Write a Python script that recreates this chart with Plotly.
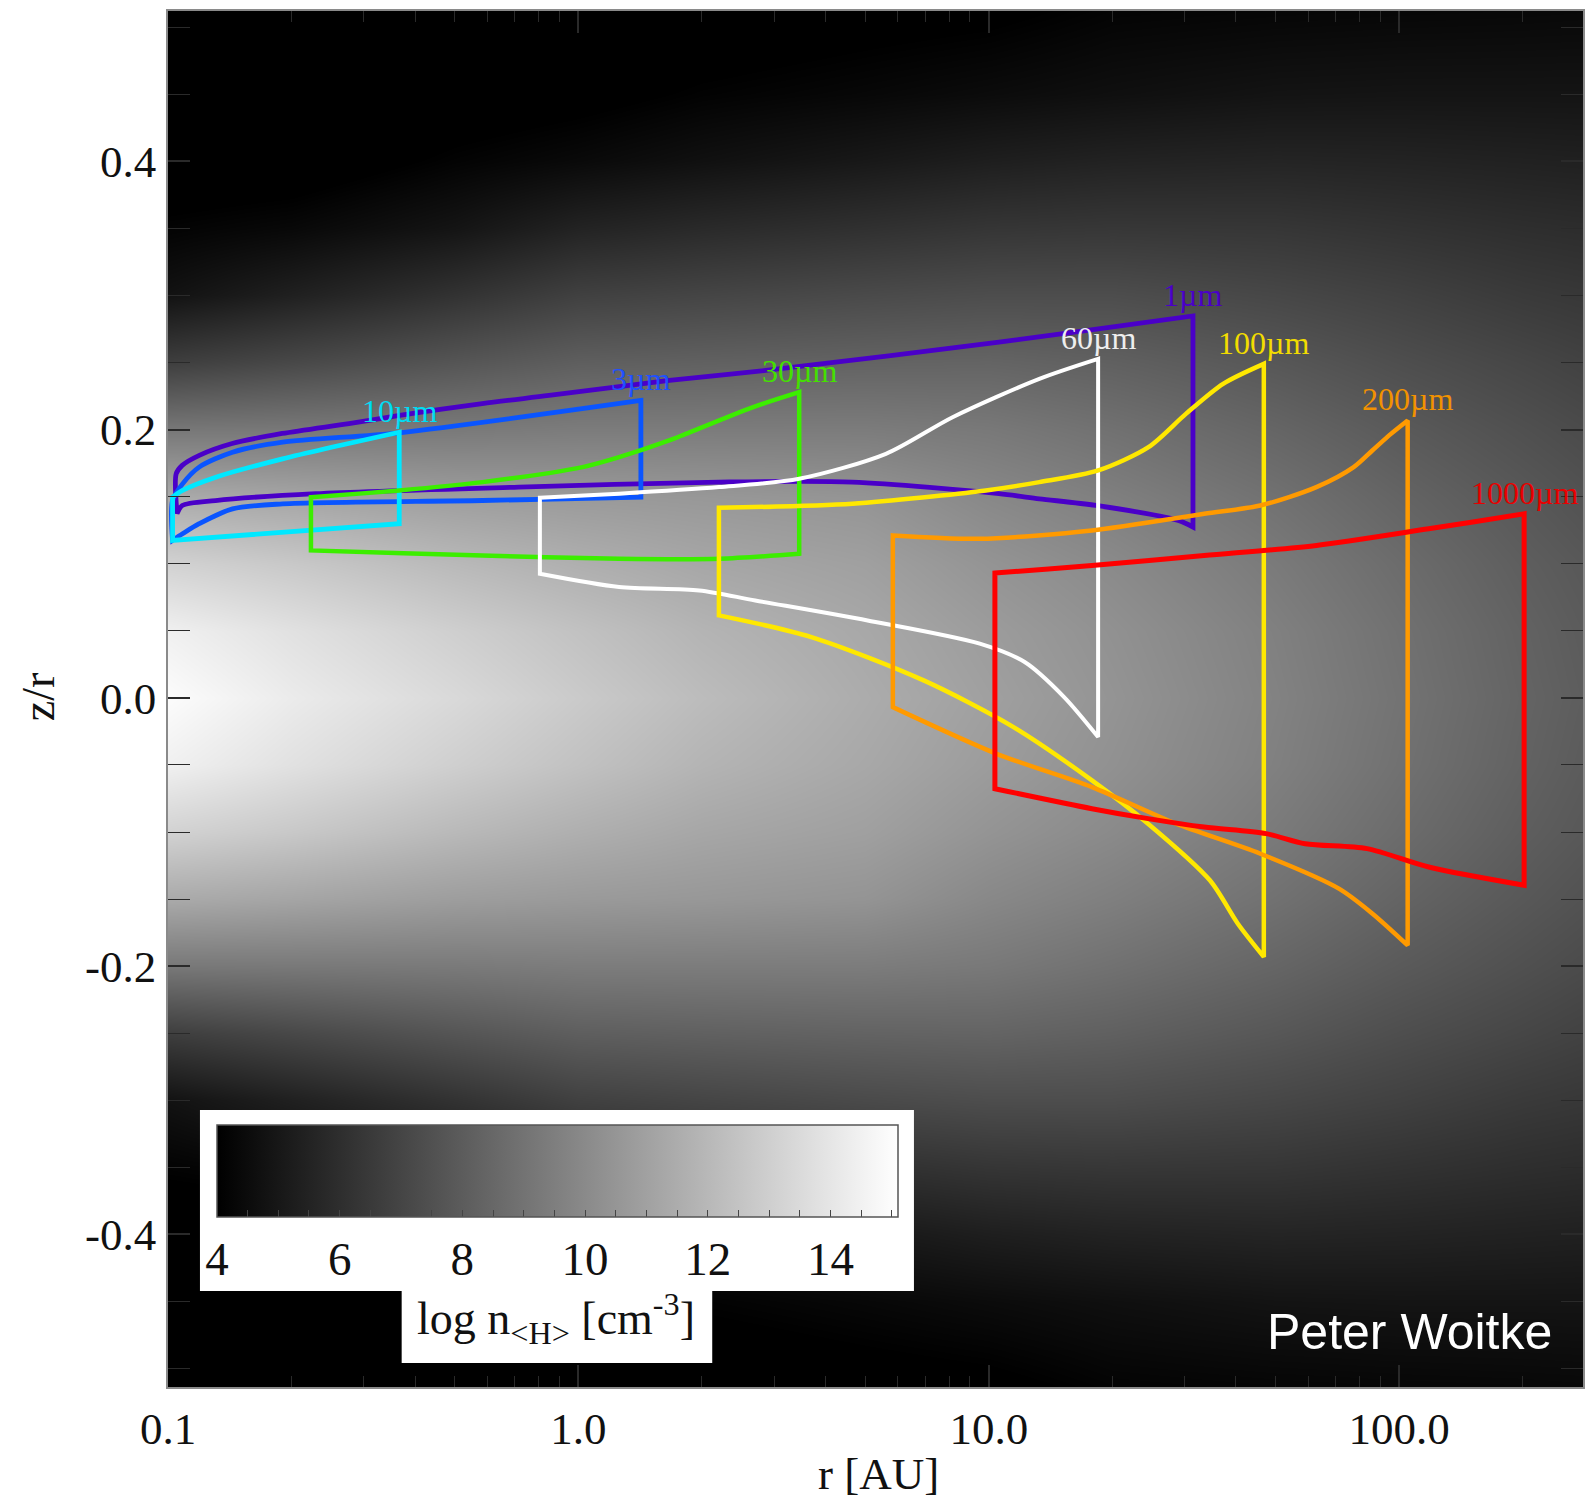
import numpy as np
import plotly.graph_objects as go

# ---------------- background density field (log n_<H>) -------------
R_GRID = [0.1, 0.2, 0.5, 1.0, 2.0, 5.0, 10.0, 20.0, 50.0, 100.0, 200.0, 300.0]
ZR_GRID = [0.0, 0.05, 0.10, 0.15, 0.20, 0.25, 0.30, 0.35, 0.40, 0.45, 0.52]
LOGN_ZR_000 = [14.97, 14.23, 13.45, 12.80, 12.18, 11.49, 10.96, 10.44, 9.66, 9.01, 8.35, 8.00]
LOGN_ZR_005 = [14.45, 13.79, 13.00, 12.42, 11.84, 11.31, 10.79, 10.31, 9.57, 8.92, 8.27, 7.92]
LOGN_ZR_010 = [13.14, 12.71, 12.05, 11.62, 11.25, 10.96, 10.44, 10.01, 9.31, 8.70, 8.09, 7.79]
LOGN_ZR_015 = [11.40, 11.18, 10.85, 10.70, 10.60, 10.44, 9.92, 9.53, 8.92, 8.35, 7.83, 7.53]
LOGN_ZR_020 = [9.22, 9.25, 9.30, 9.40, 9.40, 9.40, 9.25, 8.92, 8.40, 7.92, 7.48, 7.22]
LOGN_ZR_025 = [6.70, 7.13, 7.70, 8.10, 8.20, 8.30, 8.35, 8.18, 7.79, 7.40, 7.05, 6.83]
LOGN_ZR_030 = [4.78, 5.39, 6.18, 6.80, 7.00, 7.22, 7.35, 7.35, 7.09, 6.83, 6.52, 6.39]
LOGN_ZR_035 = [4.13, 4.35, 4.87, 5.50, 5.80, 6.09, 6.31, 6.39, 6.35, 6.18, 6.00, 5.92]
LOGN_ZR_040 = [3.50, 3.60, 4.13, 4.40, 4.70, 5.04, 5.31, 5.48, 5.57, 5.52, 5.44, 5.39]
LOGN_ZR_045 = [3.00, 3.00, 3.60, 3.80, 4.09, 4.30, 4.48, 4.65, 4.83, 4.87, 4.87, 4.87]
LOGN_ZR_052 = [2.50, 2.50, 3.00, 3.20, 3.50, 3.70, 3.80, 4.09, 4.17, 4.22, 4.26, 4.30]
LOGN_ROWS = [LOGN_ZR_000, LOGN_ZR_005, LOGN_ZR_010, LOGN_ZR_015, LOGN_ZR_020, LOGN_ZR_025,
             LOGN_ZR_030, LOGN_ZR_035, LOGN_ZR_040, LOGN_ZR_045, LOGN_ZR_052]

# ---------------- emission regions (r [AU], z/r) --------------------------------------------
R_1UM = [0.1047, 0.1083, 0.1192, 0.1433, 0.1898, 0.276, 0.3664, 0.583, 0.848, 1.666, 2.863,
         10.59, 31.45, 31.45, 28.96, 18.24, 13.28, 10.58, 4.65, 2.20, 0.716, 0.2289, 0.1305,
         0.1083, 0.1052, 0.1047]
Z_1UM = [0.1670, 0.1733, 0.1808, 0.1896, 0.1971, 0.2045, 0.2105, 0.2194, 0.2254, 0.2366, 0.2441,
         0.2652, 0.2847, 0.1273, 0.1323, 0.1434, 0.1484, 0.1522, 0.1608, 0.1608, 0.1571, 0.1522,
         0.1471, 0.1434, 0.1374, 0.1670]

R_3UM = [0.1026, 0.1085, 0.1191, 0.1436, 0.1902, 0.3660, 1.420, 1.420, 0.583, 0.1902, 0.1436,
         0.1191, 0.1085, 0.1026, 0.1026]
Z_3UM = [0.1471, 0.1595, 0.1720, 0.1831, 0.1906, 0.1976, 0.2217, 0.1496, 0.1471, 0.1446, 0.1409,
         0.1298, 0.1223, 0.1174, 0.1471]

R_10UM = [0.1026, 0.1085, 0.1308, 0.1902, 0.3660, 0.3660, 0.1026, 0.1026]
Z_10UM = [0.1496, 0.1546, 0.1645, 0.1782, 0.1980, 0.1298, 0.1174, 0.1496]

R_30UM = [0.2230, 0.3660, 0.5837, 1.0236, 1.257, 1.664, 1.827, 2.657, 3.452, 3.452, 2.203,
          1.257, 0.5837, 0.2230, 0.2230]
Z_30UM = [0.1496, 0.1546, 0.1608, 0.1720, 0.1794, 0.1919, 0.1968, 0.2166, 0.2279, 0.1074, 0.1037,
          0.1037, 0.1061, 0.1099, 0.1496]

R_60UM = [0.8057, 1.257, 2.203, 3.452, 5.615, 8.163, 13.28, 18.47, 18.47, 15.26, 12.23, 9.508,
          5.067, 2.698, 1.969, 1.257, 0.8057, 0.8057]
Z_60UM = [0.1492, 0.1522, 0.1571, 0.1633, 0.1819, 0.2092, 0.2378, 0.2527, -0.0292, 0.0006, 0.0267,
          0.0404, 0.0577, 0.0726, 0.0801, 0.0826, 0.0925, 0.1492]

R_100UM = [2.200, 4.656, 9.837, 13.28, 18.47, 24.50, 30.22, 37.24, 46.8, 46.8, 40.46, 34.58,
           24.44, 17.84, 11.49, 6.940, 3.696, 2.200, 2.200]
Z_100UM = [0.1417, 0.1447, 0.1546, 0.1608, 0.1695, 0.1869, 0.2117, 0.2341, 0.2490, -0.1931,
           -0.1684, -0.1360, -0.0938, -0.0615, -0.0218, 0.0130, 0.0453, 0.0615, 0.1417]

R_200UM = [5.839, 9.508, 17.84, 33.49, 45.90, 62.85, 77.48, 86.01, 95.50, 104.9, 104.9, 86.12,
           71.32, 45.90, 28.62, 17.84, 10.45, 5.839, 5.839]
Z_200UM = [0.1211, 0.1186, 0.1248, 0.1372, 0.1434, 0.1571, 0.1720, 0.1844, 0.1968, 0.2068,
           -0.1845, -0.1609, -0.1422, -0.1162, -0.0938, -0.0665, -0.0417, -0.0069, 0.1211]

R_1000UM = [10.35, 17.84, 33.49, 62.88, 118.0, 201.6, 201.6, 118.0, 83.51, 59.02, 47.38, 33.49,
            24.44, 17.84, 10.35, 10.35]
Z_1000UM = [0.0930, 0.0987, 0.1061, 0.1136, 0.1260, 0.1372, -0.1397, -0.1261, -0.1124, -0.1087,
            -0.1012, -0.0963, -0.0900, -0.0826, -0.0677, 0.0930]

SERIES_NAMES = ["1µm", "3µm", "10µm", "30µm", "60µm", "100µm", "200µm", "1000µm"]
SERIES_R = [R_1UM, R_3UM, R_10UM, R_30UM, R_60UM, R_100UM, R_200UM, R_1000UM]
SERIES_Z = [Z_1UM, Z_3UM, Z_10UM, Z_30UM, Z_60UM, Z_100UM, Z_200UM, Z_1000UM]
LABEL_R = [31.45, 1.420, 0.366, 3.452, 18.47, 46.8, 104.9, 201.6]
LABEL_Z = [0.2847, 0.2217, 0.1980, 0.2279, 0.2527, 0.2490, 0.2068, 0.1372]

X_TICKS = [0.1, 1, 10, 100]
X_TICKTEXT = ["0.1", "1.0", "10.0", "100.0"]
Y_TICKS = [-0.4, -0.2, 0.0, 0.2, 0.4]
Y_TICKTEXT = ["-0.4", "-0.2", "0.0", "0.2", "0.4"]

# ---------------- styling -------------------------------------------------------------------
LINE_COLORS = ["#4a00c8", "#0a55ff", "#00e8ff", "#3cee00", "#ffffff", "#ffe800", "#ff9a00", "#ff0000"]
LINE_WIDTHS = [4.8, 4.8, 4.8, 4.5, 4.0, 4.5, 4.5, 5.0]
TEXT_COLORS = ["#4a00c8", "#2050ff", "#00dcf4", "#44e000", "#eeeeee", "#f2dc00", "#f29200", "#e80000"]
W, H = 1585, 1501
L, T, B = 168, 11, 114
PW, PH = W - L, H - T - B
X_RANGE = [-1.0, 2.448]
Y_RANGE = [-0.5137, 0.512]
SERIF = "Liberation Serif"


def px_x(p):
    return (p - L) / PW


def px_y(p):
    return (T + PH - p) / PH


def turn_angle(p_prev, p, p_next):
    a = p - p_prev
    b = p_next - p
    na, nb = np.linalg.norm(a), np.linalg.norm(b)
    if na == 0 or nb == 0:
        return 0.0
    return float(np.degrees(np.arccos(np.clip(a.dot(b) / (na * nb), -1, 1))))


def sharpen(rr, zz, min_turn_deg=55.0):
    """Duplicate sharp vertices so the spline keeps real corners there."""
    px = (np.log10(rr) - X_RANGE[0]) / (X_RANGE[1] - X_RANGE[0]) * PW
    py = -np.asarray(zz) / (Y_RANGE[1] - Y_RANGE[0]) * PH
    pts = np.column_stack([px, py])
    n = len(rr)
    closed = rr[0] == rr[-1] and zz[0] == zz[-1]
    out_r, out_z = [], []
    for i in range(n):
        out_r.append(rr[i])
        out_z.append(zz[i])
        if 0 < i < n - 1:
            if turn_angle(pts[i - 1], pts[i], pts[i + 1]) > min_turn_deg:
                out_r.append(rr[i])
                out_z.append(zz[i])
    if closed and turn_angle(pts[n - 2], pts[0], pts[1]) > min_turn_deg:
        out_r.insert(0, rr[0])
        out_z.insert(0, zz[0])
    return out_r, out_z


zr_full = [-v for v in ZR_GRID[::-1][:-1]] + ZR_GRID
z_full = LOGN_ROWS[::-1][:-1] + LOGN_ROWS
cb_vals = list(np.arange(4.0, 15.01, 0.5))

fig = go.Figure()
fig.add_trace(go.Heatmap(
    x=np.log10(R_GRID), y=zr_full, z=z_full, zsmooth="best",
    colorscale=[[0, "#000000"], [1, "#ffffff"]], zmin=4.0, zmax=15.1,
    xaxis="x", yaxis="y", hoverinfo="skip",
    colorbar=dict(
        orientation="h", x=px_x(217), xanchor="left", y=px_y(1125), yanchor="top",
        len=681, lenmode="pixels", thickness=92, thicknessmode="pixels",
        xpad=0, ypad=0, outlinecolor="#555555", outlinewidth=1.5,
        bgcolor="rgba(0,0,0,0)", borderwidth=0,
        tickmode="array", tickvals=cb_vals,
        ticktext=[str(int(v)) if (v % 2 == 0) else "" for v in cb_vals],
        ticks="inside", ticklen=7, tickwidth=1.2, tickcolor="#444444",
        tickfont=dict(family=SERIF, size=47, color="#111111"),
    ),
))

for name, rr, zz, col, lw in zip(SERIES_NAMES, SERIES_R, SERIES_Z, LINE_COLORS, LINE_WIDTHS):
    sr, sz = sharpen(rr, zz)
    fig.add_trace(go.Scatter(
        x=sr, y=sz, mode="lines", name=name, xaxis="x2", yaxis="y",
        line=dict(color=col, width=lw, shape="spline", smoothing=0.8, simplify=False),
        hoverinfo="skip", showlegend=False,
    ))

minor_x = [m * 10.0 ** e for e in range(-1, 3) for m in range(2, 10)]

shapes = [
    dict(type="rect", xref="paper", yref="paper", x0=px_x(200), x1=px_x(915),
         y0=px_y(1291), y1=px_y(1110), fillcolor="white", line=dict(width=0), layer="above"),
    dict(type="rect", xref="paper", yref="paper", x0=px_x(402), x1=px_x(713),
         y0=px_y(1363), y1=px_y(1290), fillcolor="white", line=dict(width=0), layer="above"),
]

annotations = []
for name, lr, lz, tc in zip(SERIES_NAMES, LABEL_R, LABEL_Z, TEXT_COLORS):
    annotations.append(dict(
        x=np.log10(lr), y=lz, xref="x2", yref="y", text=name, showarrow=False,
        xanchor="center", yanchor="bottom", yshift=1,
        font=dict(family=SERIF, size=32, color=tc),
    ))
annotations += [
    dict(x=px_x(880), y=px_y(1474), xref="paper", yref="paper", text="r [AU]", showarrow=False,
         xanchor="center", yanchor="middle", font=dict(family=SERIF, size=45, color="#111111")),
    dict(x=px_x(38), y=px_y(697), xref="paper", yref="paper", text="z/r", showarrow=False,
         textangle=-90, xanchor="center", yanchor="middle",
         font=dict(family=SERIF, size=46, color="#111111")),
    dict(x=px_x(557), y=px_y(1318), xref="paper", yref="paper",
         text="log n<sub>&lt;H&gt;</sub> [cm<sup>-3</sup>]", showarrow=False,
         xanchor="center", yanchor="middle", font=dict(family=SERIF, size=46, color="#111111")),
    dict(x=px_x(1556), y=px_y(1332), xref="paper", yref="paper", text="Peter Woitke",
         showarrow=False, xanchor="right", yanchor="middle",
         font=dict(family="Liberation Sans", size=50, color="white")),
]

tick_font = dict(family=SERIF, size=45, color="#111111")
fig.update_layout(
    width=W, height=H, margin=dict(l=L, r=0, t=T, b=B, pad=0),
    paper_bgcolor="white", plot_bgcolor="black", showlegend=False,
    xaxis=dict(range=X_RANGE, visible=False, showgrid=False, zeroline=False),
    xaxis2=dict(
        type="log", range=X_RANGE, overlaying="x", anchor="y", side="bottom",
        tickmode="array", tickvals=X_TICKS, ticktext=X_TICKTEXT,
        ticks="inside", ticklen=22, tickwidth=1.5, tickcolor="#2a2a2a",
        minor=dict(tickmode="array", tickvals=minor_x, ticks="inside", ticklen=11,
                   tickwidth=1.2, tickcolor="#2a2a2a", showgrid=False),
        showgrid=False, zeroline=False, showline=True, linecolor="#8a8a8a", linewidth=1.5,
        mirror="allticks", tickfont=tick_font, ticklabelstandoff=1,
    ),
    yaxis=dict(
        range=Y_RANGE, tickmode="array", tickvals=Y_TICKS, ticktext=Y_TICKTEXT,
        ticks="inside", ticklen=22, tickwidth=1.5, tickcolor="#2a2a2a",
        minor=dict(tick0=0, dtick=0.05, ticks="inside", ticklen=11, tickwidth=1.2,
                   tickcolor="#2a2a2a", showgrid=False),
        showgrid=False, zeroline=False, showline=True, linecolor="#8a8a8a", linewidth=1.5,
        mirror="allticks", tickfont=tick_font, ticklabelstandoff=1,
    ),
    shapes=shapes, annotations=annotations,
)

fig.write_html("out.html")
